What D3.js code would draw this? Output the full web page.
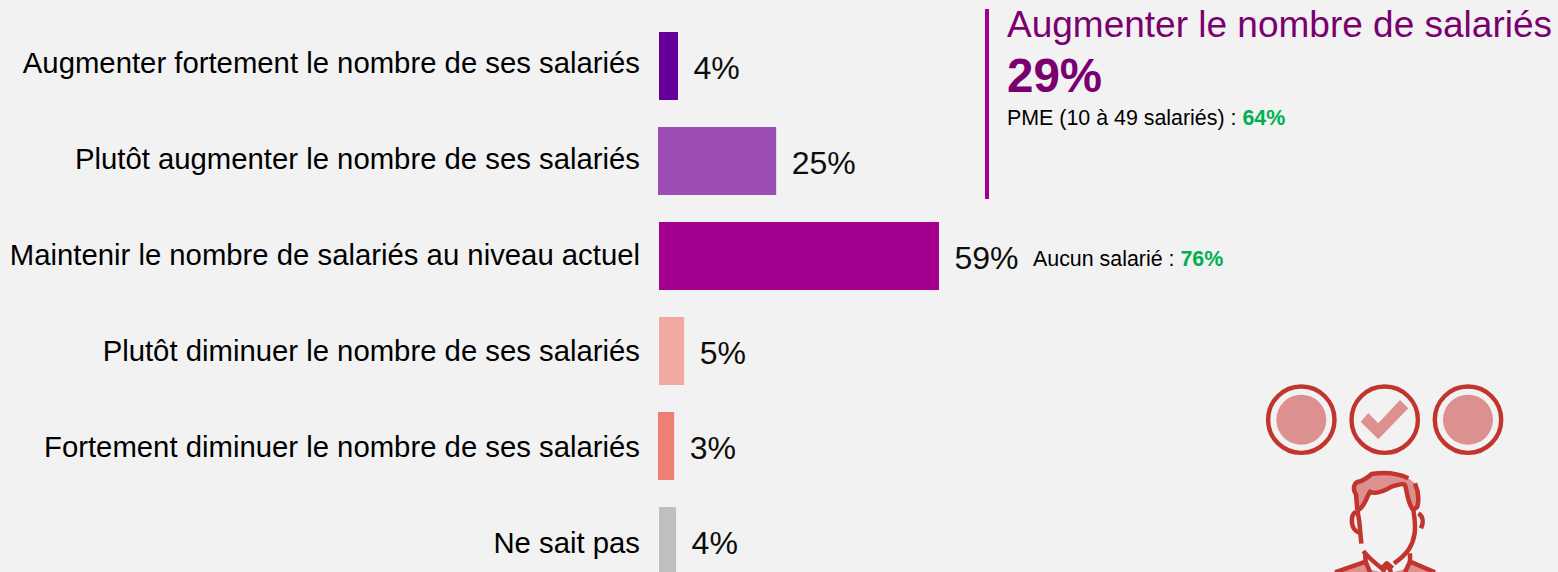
<!DOCTYPE html>
<html><head><meta charset="utf-8">
<script src="https://cdnjs.cloudflare.com/ajax/libs/d3/7.8.5/d3.min.js"></script>
<style>html,body{margin:0;padding:0;background:#f2f2f2;overflow:hidden}svg{display:block}text{font-family:"Liberation Sans",Arial,sans-serif}</style>
</head><body><svg id="c" width="1558" height="572"></svg>
<script>
const categories=["Augmenter fortement le nombre de ses salariés","Plutôt augmenter le nombre de ses salariés","Maintenir le nombre de salariés au niveau actuel","Plutôt diminuer le nombre de ses salariés","Fortement diminuer le nombre de ses salariés","Ne sait pas"];
const values=[4,25,59,5,3,4];
const barValues=[4.0,24.9,59.0,5.3,3.4,3.6];
const colors=["#640099","#9b4db5","#a3008f","#f2a9a0","#ef7e74","#bfbfbf"];
const svg=d3.select("#c");
const x=d3.scaleLinear().domain([0,59]).range([659,939]);
const y=d3.scaleBand().domain(categories).range([32,575]).paddingInner(27/95).paddingOuter(0);
const labelY=d3.scalePoint().domain(categories).range([73,553]);
categories.forEach((c,i)=>{
  const cy=y(c);
  const shift=i%3===1?1:0;
  svg.append("rect").attr("x",x(0)-shift).attr("y",cy).attr("width",x(barValues[i])-x(0)).attr("height",y.bandwidth()).attr("fill",colors[i]);
  svg.append("text").attr("x",640).attr("y",labelY(c)).attr("text-anchor","end").attr("font-size",29.3).attr("fill","#000").text(c);
  svg.append("text").attr("x",x(barValues[i])-shift+15.5).attr("y",cy+46.5).attr("font-size",32).attr("fill","#0d0d0d").text(values[i]+"%");
});
svg.append("rect").attr("x",985).attr("y",9).attr("width",4).attr("height",190).attr("fill","#a3008f");
svg.append("text").attr("x",1007).attr("y",37).attr("font-size",37).attr("fill","#7a0070").text("Augmenter le nombre de salariés");
svg.append("text").attr("x",1007).attr("y",92).attr("font-size",47.5).attr("font-weight","bold").attr("fill","#7a0070").text("29%");
const t1=svg.append("text").attr("x",1007).attr("y",125).attr("font-size",21.4).attr("fill","#000").text("PME (10 à 49 salariés) : ");
t1.append("tspan").attr("font-weight","bold").attr("fill","#00b050").text("64%");
const t2=svg.append("text").attr("x",1033).attr("y",266).attr("font-size",21.4).attr("fill","#000").text("Aucun salarié : ");
t2.append("tspan").attr("font-weight","bold").attr("fill","#00b050").text("76%");
// icon
const red="#c2352f",pink="#dc9190";
[1301.3,1384.7,1468].forEach((cx,i)=>{
  svg.append("circle").attr("cx",cx).attr("cy",419.7).attr("r",33.2).attr("fill","none").attr("stroke",red).attr("stroke-width",4.4);
  if(i!==1) svg.append("circle").attr("cx",cx).attr("cy",419.7).attr("r",25).attr("fill",pink);
});
svg.append("polygon").attr("points","1360.7,421.7 1368.3,413.3 1378.3,423.3 1400,400 1408.3,408.3 1378.3,439.3").attr("fill",pink);
const g=svg.append("g").attr("transform","translate(1320,465) scale(0.3333)");
const fills=[
 "M265 40C240 28 200 20 155 27C140 40 130 48 115 50C100 55 98 75 108 88L112 135L130 120C140 100 145 85 150 80C165 88 190 80 215 65C235 58 250 55 255 60L265 100L280 132L292 125C298 100 295 75 285 55Z",
 "M45 322L135 290L145 312L185 322ZM345 322L270 290L258 312L218 322Z"];
fills.forEach(d=>g.append("path").attr("d",d).attr("fill",pink));
const lines=[
 "M265 40C240 28 200 20 155 27C140 40 130 48 115 50C100 55 98 75 108 88L112 135",
 "M112 135L118 170L124 236",
 "M115 135C135 125 140 95 150 80C165 88 190 80 215 65C235 58 250 55 255 60C262 80 262 115 280 135C285 165 287 190 283 210C278 240 265 265 222 295",
 "M285 55C296 80 297 105 292 125L280 135",
 "M108 140C90 150 90 195 118 203",
 "M295 145C312 155 310 175 303 190",
 "M130 258C145 278 160 290 185 310L200 295L218 310",
 "M135 262L137 290L45 322",
 "M270 265L270 290L345 322",
 "M137 290L150 322",
 "M270 290L255 322",
 "M188 322L200 298L214 322"];
lines.forEach(d=>g.append("path").attr("d",d).attr("fill","none").attr("stroke",red).attr("stroke-width",13.5).attr("stroke-linejoin","round"));
</script></body></html>
